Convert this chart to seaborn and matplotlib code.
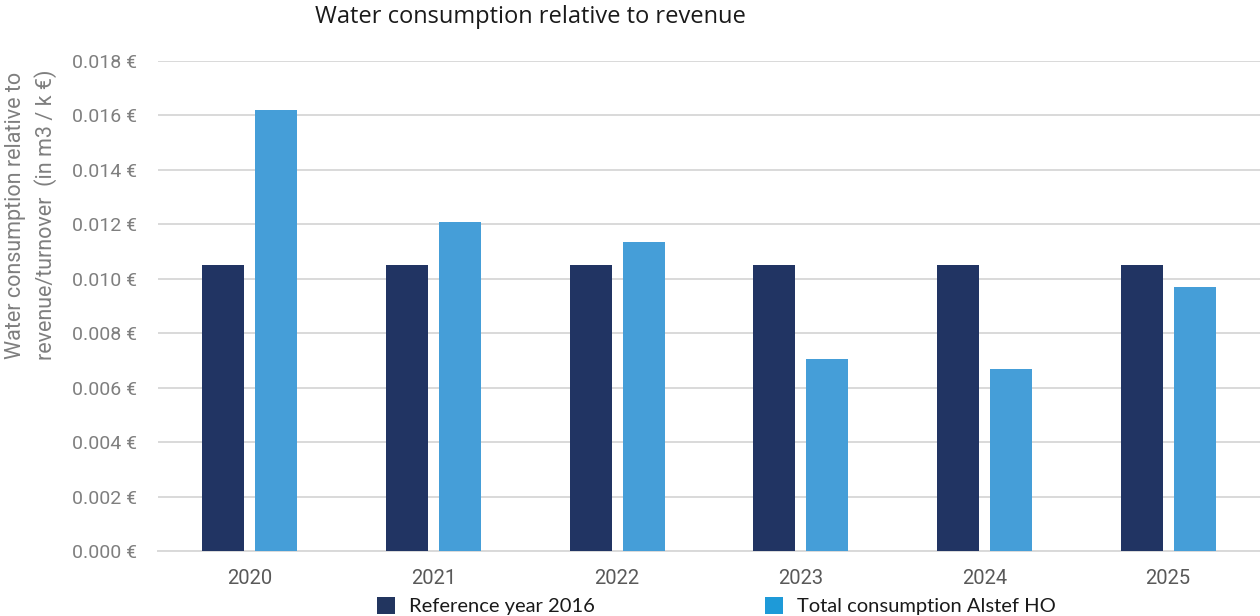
import matplotlib
matplotlib.use("Agg")
import matplotlib.pyplot as plt
import seaborn as sns
import pandas as pd
from matplotlib.patches import Patch
from matplotlib.ticker import FuncFormatter

years = ["2020", "2021", "2022", "2023", "2024", "2025"]
reference_2016 = [0.0105, 0.0105, 0.0105, 0.0105, 0.0105, 0.0105]
total_alstef = [0.0162, 0.0121, 0.01135, 0.00705, 0.0067, 0.0097]
series_names = ["Reference year 2016", "Total consumption Alstef HO"]
bar_colors = ["#213463", "#459ED8"]
legend_colors = ["#22355F", "#1E9AD8"]

df = pd.DataFrame({
    "year": years * 2,
    "value": reference_2016 + total_alstef,
    "series": [series_names[0]] * len(years) + [series_names[1]] * len(years),
})

sns.set_theme(style="white")
plt.rcParams["font.family"] = ["Roboto", "DejaVu Sans"]

fig = plt.figure(figsize=(12.6, 6.16), dpi=100)
ax = fig.add_axes([0.1254, 0.1055, 0.8746, 0.7955])

sns.barplot(data=df, x="year", y="value", hue="series", palette=bar_colors,
            width=0.576, gap=0.21, ax=ax, legend=False, saturation=1,
            edgecolor="none", zorder=3)

ax.set_xlim(-0.5, 5.5)
ax.set_ylim(0, 0.018)
ax.set_yticks([i * 0.002 for i in range(10)])
ax.yaxis.set_major_formatter(FuncFormatter(lambda v, p: f"{v:.3f} €"))
ax.grid(axis="y", color="#d9d9d9", linewidth=1.4, zorder=0)
ax.grid(axis="x", visible=False)
for s in ["top", "right", "left"]:
    ax.spines[s].set_visible(False)
ax.spines["bottom"].set_color("#d9d9d9")
ax.spines["bottom"].set_linewidth(1.4)
ax.tick_params(axis="y", length=0, pad=15, labelsize=14, labelcolor="#7f7f7f")
ax.tick_params(axis="x", length=0, pad=13, labelsize=14.5, labelcolor="#595959")
ax.set_xlabel("")
ax.set_ylabel("")

fig.text(0.0125, 0.651, "Water consumption relative to", rotation=90,
         ha="center", va="center", fontsize=15.5, color="#7f7f7f")
fig.text(0.0365, 0.651, "revenue/turnover  (in m3 / k €)", rotation=90,
         ha="center", va="center", fontsize=15.5, color="#7f7f7f")

fig.text(0.421, 0.972, "Water consumption relative to revenue",
         ha="center", va="center", fontsize=17, color="#1a1a1a",
         family=["Open Sans", "DejaVu Sans"])

leg_font = {"family": ["Lato", "DejaVu Sans"], "size": 14.5}
for name, col, xpos in [(series_names[0], legend_colors[0], 0.299),
                        (series_names[1], legend_colors[1], 0.607)]:
    fig.legend(handles=[Patch(facecolor=col, edgecolor="none")], labels=[name],
               loc="center left", bbox_to_anchor=(xpos, 0.016), frameon=False,
               handlelength=0.9, handleheight=0.9, handletextpad=0.7,
               borderaxespad=0, borderpad=0, prop=leg_font, labelcolor="#1a1a1a")

fig.savefig("out.png", dpi=100)
